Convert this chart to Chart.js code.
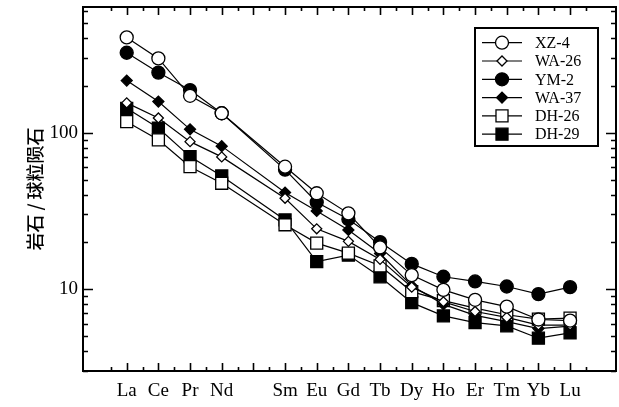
<!DOCTYPE html>
<html>
<head>
<meta charset="utf-8">
<script src="https://cdn.jsdelivr.net/npm/chart.js@4/dist/chart.umd.min.js"></script>
<style>
  body { margin: 0; background: #fff; }
</style>
</head>
<body>
<canvas id="myChart" width="619" height="407"></canvas>
<script>
// REE categories (Pm left empty, no data)
const categories = ['La', 'Ce', 'Pr', 'Nd', '', 'Sm', 'Eu', 'Gd', 'Tb', 'Dy', 'Ho', 'Er', 'Tm', 'Yb', 'Lu'];
const yTickValues = [10, 100];

// chondrite-normalized values per sample
const xz4  = [406, 298, 172, 133, null, 60.6, 41, 30.5, 18.5, 12.3, 9.9, 8.55, 7.74, 6.4, 6.3];
const wa26 = [155, 124, 87.6, 70, null, 38.1, 24.3, 20.2, 15.5, 10.3, 8.3, 7.2, 6.6, 5.9, 5.9];
const ym2  = [324, 242, 187, 133, null, 58, 35.9, 28, 20, 14.5, 12, 11.2, 10.4, 9.3, 10.3];
const wa37 = [215, 158, 105, 82, null, 41.4, 31.6, 23.9, 16.9, 10.5, 8, 6.8, 6.2, 5.6, 5.8];
const dh26 = [117.5, 90, 60.6, 47.5, null, 25.8, 19.7, 17, 14.1, 9.65, 8.45, 7.56, 6.86, 6.43, 6.53];
const dh29 = [143, 107, 70.3, 52.9, null, 27.7, 15.0, 16.5, 12.0, 8.2, 6.75, 6.12, 5.83, 4.86, 5.25];

const serif = "'Liberation Serif', 'Times New Roman', serif";

function toPoints(vals) {
    return vals.map((v, i) => ({ x: i, y: v }));
}

function series(label, vals, style, radius, fill) {
    return {
        label: label,
        data: toPoints(vals),
        showLine: true,
        spanGaps: true,
        borderColor: '#000',
        borderWidth: 1.2,
        pointStyle: style,
        pointRadius: radius,
        pointBackgroundColor: fill,
        pointBorderColor: '#000',
        pointBorderWidth: 1.3
    };
}

// inward ticks on all four sides + frame
const framePlugin = {
    id: 'frame',
    afterDraw(chart) {
        const ctx = chart.ctx;
        const a = chart.chartArea;
        const xs = chart.scales.x;
        const ys = chart.scales.y;
        ctx.save();
        ctx.strokeStyle = '#000';
        ctx.lineWidth = 1.6;
        ctx.beginPath();
        for (let i = -0.5; i <= categories.length - 0.5; i += 0.5) {
            const px = Math.round(xs.getPixelForValue(i)) + 0.5;
            const len = Number.isInteger(i) ? 8 : 4;
            ctx.moveTo(px, a.bottom); ctx.lineTo(px, a.bottom - len);
            ctx.moveTo(px, a.top); ctx.lineTo(px, a.top + len);
        }
        for (let d = 1; d <= 100; d *= 10) {
            for (let m = 1; m <= 9; m++) {
                const v = d * m;
                if (v < ys.min || v > ys.max) continue;
                const py = Math.round(ys.getPixelForValue(v)) + 0.5;
                const len = m === 1 ? 10 : 5;
                ctx.moveTo(a.left, py); ctx.lineTo(a.left + len, py);
                ctx.moveTo(a.right, py); ctx.lineTo(a.right - len, py);
            }
        }
        ctx.stroke();
        ctx.lineWidth = 2;
        ctx.strokeRect(a.left, a.top, a.right - a.left, a.bottom - a.top);
        ctx.restore();
    }
};

// boxed legend in the upper right, line through marker
const legendPlugin = {
    id: 'boxLegend',
    afterDraw(chart) {
        const ctx = chart.ctx;
        const box = { x: 475, y: 28, w: 123, h: 118 };
        ctx.save();
        ctx.fillStyle = '#fff';
        ctx.fillRect(box.x, box.y, box.w, box.h);
        ctx.strokeStyle = '#000';
        ctx.lineWidth = 2;
        ctx.strokeRect(box.x, box.y, box.w, box.h);
        chart.data.datasets.forEach((ds, i) => {
            const y = 42.7 + i * 18.3;
            ctx.strokeStyle = '#000';
            ctx.lineWidth = 1.2;
            ctx.beginPath();
            ctx.moveTo(482, y);
            ctx.lineTo(522, y);
            ctx.stroke();
            ctx.fillStyle = ds.pointBackgroundColor;
            ctx.lineWidth = ds.pointBorderWidth;
            Chart.helpers.drawPoint(ctx, {
                pointStyle: ds.pointStyle,
                rotation: 0,
                radius: ds.pointRadius,
                borderWidth: ds.pointBorderWidth
            }, 502, y);
            ctx.fillStyle = '#000';
            ctx.font = '16px ' + serif;
            ctx.textBaseline = 'middle';
            ctx.textAlign = 'left';
            ctx.fillText(ds.label, 535, y + 1);
        });
        ctx.restore();
    }
};

const ctx = document.getElementById('myChart').getContext('2d');
new Chart(ctx, {
    type: 'scatter',
    data: {
        datasets: [
            series('XZ-4', xz4, 'circle', 6.5, '#fff'),
            series('WA-26', wa26, 'rectRot', 5, '#fff'),
            series('YM-2', ym2, 'circle', 6.5, '#000'),
            series('WA-37', wa37, 'rectRot', 5.5, '#000'),
            series('DH-26', dh26, 'rect', 8.5, '#fff'),
            series('DH-29', dh29, 'rect', 8.5, '#000')
        ]
    },
    options: {
        responsive: false,
        devicePixelRatio: 1,
        animation: false,
        layout: {
            autoPadding: false,
            padding: { top: 7, right: 3, left: 0, bottom: 0 }
        },
        plugins: {
            legend: { display: false },
            tooltip: { enabled: false }
        },
        scales: {
            x: {
                type: 'linear',
                min: -1.38,
                max: 15.45,
                grid: { display: false, drawTicks: false },
                border: { display: false },
                afterBuildTicks: scale => {
                    scale.ticks = categories.map((c, i) => ({ value: i }));
                },
                afterFit: scale => {
                    scale.height = 36;
                    scale.paddingLeft = 0;
                    scale.paddingRight = 0;
                },
                ticks: {
                    autoSkip: false,
                    maxRotation: 0,
                    padding: 9,
                    color: '#000',
                    font: { family: serif, size: 19 },
                    callback: v => categories[v]
                }
            },
            y: {
                type: 'logarithmic',
                min: 3,
                max: 635,
                grid: { display: false, drawTicks: false },
                border: { display: false },
                afterBuildTicks: scale => {
                    scale.ticks = yTickValues.map(v => ({ value: v }));
                },
                afterFit: scale => {
                    scale.width = 83;
                    scale.paddingTop = 0;
                    scale.paddingBottom = 0;
                },
                ticks: {
                    padding: 5,
                    color: '#000',
                    font: { family: serif, size: 19 },
                    callback: v => String(v)
                },
                title: {
                    display: true,
                    text: '岩石 / 球粒陨石',
                    color: '#000',
                    font: { family: "'Noto Sans CJK SC', sans-serif", size: 18, weight: '500' },
                    padding: { top: 24, bottom: 0 }
                }
            }
        }
    },
    plugins: [framePlugin, legendPlugin]
});
</script>
</body>
</html>
